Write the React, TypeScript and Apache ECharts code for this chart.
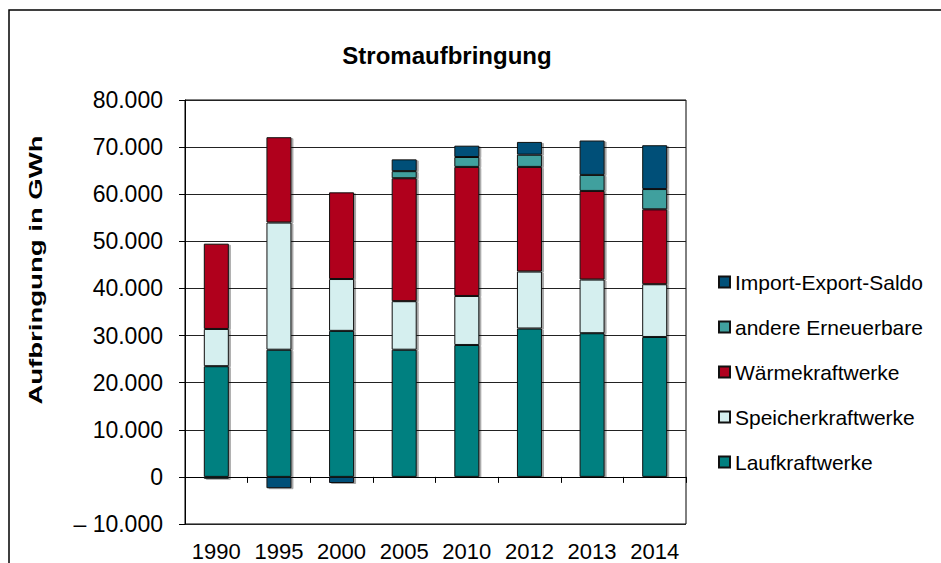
import React, { useEffect, useRef } from "react";
import * as echarts from "echarts";

const years = ["1990", "1995", "2000", "2005", "2010", "2012", "2013", "2014"];
const laufkraftwerke = [23500, 27000, 31000, 27000, 28000, 31500, 30500, 29700];
const speicherkraftwerke = [7900, 27000, 11000, 10300, 10400, 12100, 11400, 11200];
const waermekraftwerke = [18100, 18100, 18400, 26100, 27400, 22200, 18800, 15900];
const andereErneuerbare = [0, 0, 0, 1500, 2100, 2600, 3400, 4300];
const importExportSaldo = [-400, -2400, -1300, 2500, 2400, 2700, 7300, 9300];

const FONT = "'Liberation Sans', Arial, sans-serif";

function fmt(v: number): string {
  const s = String(Math.abs(v)).replace(/\B(?=(\d{3})+(?!\d))/g, ".");
  return v < 0 ? "\u2013 " + s : s;
}

export default function App() {
  const ref = useRef<HTMLDivElement>(null);
  useEffect(() => {
    if (!ref.current) return;
    const chart = echarts.init(ref.current, undefined, { renderer: "svg" });
    const mk = (name: string, data: number[], color: string) => ({
      name,
      type: "bar",
      stack: "total",
      xAxisIndex: 0,
      data,
      barWidth: 25,
      itemStyle: {
        color,
        borderColor: "#111",
        borderWidth: 1,
        shadowColor: "rgba(0,0,0,0.35)",
        shadowOffsetX: 2,
        shadowOffsetY: 1,
        shadowBlur: 0,
      },
    });
    chart.setOption({
      animation: false,
      backgroundColor: "#fff",
      grid: { left: 185, right: 255, top: 100, bottom: 39, show: true, borderColor: "#000", borderWidth: 1 },
      legend: {
        orient: "vertical",
        left: 718,
        top: 271,
        padding: 0,
        itemWidth: 11,
        itemHeight: 11,
        itemGap: 23,
        icon: "rect",
        textStyle: { fontSize: 21, fontFamily: FONT, color: "#000", lineHeight: 22 },
        data: ["Import-Export-Saldo", "andere Erneuerbare", "Wärmekraftwerke", "Speicherkraftwerke", "Laufkraftwerke"],
      },
      xAxis: [
        {
          type: "category",
          data: years,
          position: "bottom",
          axisLine: { show: false, onZero: false },
          axisTick: { show: false },
          axisLabel: { fontSize: 22, fontFamily: FONT, color: "#000", margin: 16, interval: 0, hideOverlap: false },
        },
        {
          type: "category",
          data: years,
          position: "bottom",
          axisLine: { show: true, onZero: true, lineStyle: { color: "#000", width: 1 } },
          axisTick: { show: true, length: 6, interval: 0, lineStyle: { color: "#000" } },
          axisLabel: { show: false },
        },
      ],
      yAxis: {
        type: "value",
        min: -10000,
        max: 80000,
        interval: 10000,
        axisLine: { show: true, lineStyle: { color: "#000" } },
        axisTick: { show: true, length: 6, lineStyle: { color: "#000" } },
        axisLabel: { fontSize: 23, fontFamily: FONT, color: "#000", margin: 22, formatter: (v: number) => fmt(v) },
        splitLine: { show: true, lineStyle: { color: "#222", width: 1 } },
      },
      graphic: [
        {
          type: "rect",
          shape: { x: 9, y: 10, width: 1000, height: 600 },
          style: { fill: "none", stroke: "#000", lineWidth: 1.5 },
          silent: true,
        },
        {
          type: "text",
          x: 447,
          y: 55,
          style: {
            text: "Stromaufbringung",
            font: "bold 24px " + FONT,
            fill: "#000",
            textAlign: "center",
            textVerticalAlign: "middle",
          },
        },
        {
          type: "text",
          x: 36,
          y: 270,
          rotation: Math.PI / 2,
          scaleX: 1.45,
          style: {
            text: "Aufbringung in GWh",
            font: "bold 19px " + FONT,
            fill: "#000",
            textAlign: "center",
            textVerticalAlign: "middle",
          },
        },
      ],
      series: [
        mk("Laufkraftwerke", laufkraftwerke, "#008080"),
        mk("Speicherkraftwerke", speicherkraftwerke, "#D5EFEF"),
        mk("Wärmekraftwerke", waermekraftwerke, "#B0001E"),
        mk("andere Erneuerbare", andereErneuerbare, "#40A09E"),
        mk("Import-Export-Saldo", importExportSaldo, "#005078"),
      ],
    });
    return () => chart.dispose();
  }, []);
  return <div ref={ref} style={{ position: "fixed", left: 0, top: 0, width: 941, height: 563 }} />;
}
